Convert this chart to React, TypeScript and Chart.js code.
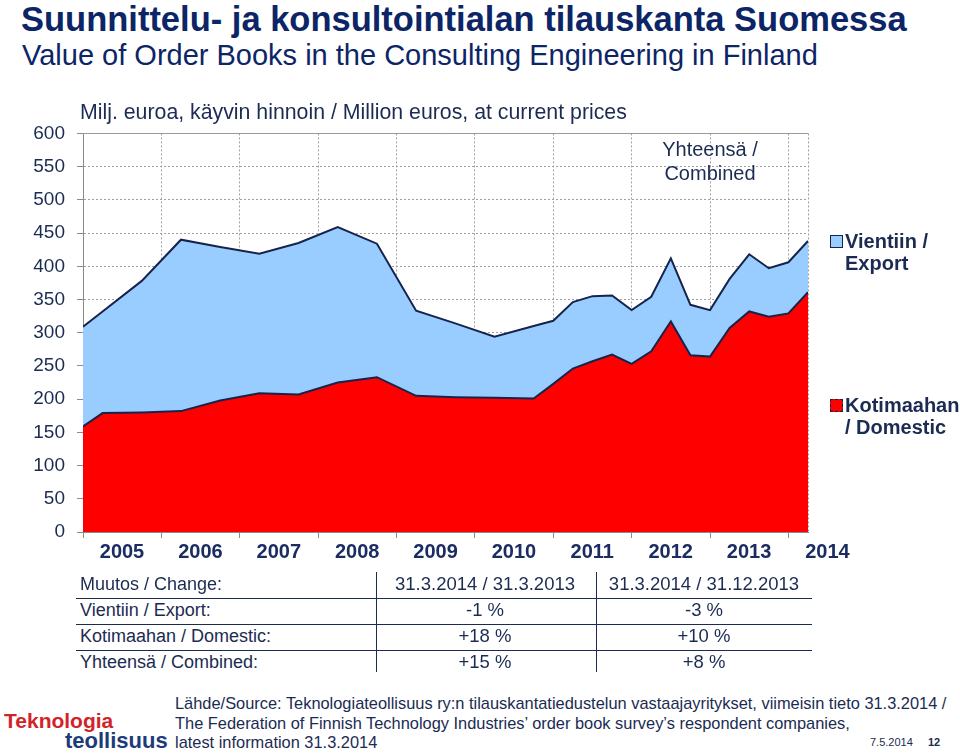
import React, { useEffect, useRef } from 'react';
import { Chart, registerables } from 'chart.js';

Chart.register(...registerables);

// ---- data ----
const yearLabels = ['2005', '2006', '2007', '2008', '2009', '2010', '2011', '2012', '2013', '2014'];
// quarter index from the start of 2005 (end-of-quarter survey dates)
const quarterIndex = [0, 1, 3, 5, 7, 9, 11, 13, 15, 17, 19, 21, 23, 24, 25, 26, 27, 28, 29, 30, 31, 32, 33, 34, 35, 36, 37];
const domesticValues = [159, 179, 180, 182, 198, 209, 207, 225, 233, 205, 203, 202, 201, 223, 246, 257, 267, 253, 272, 317, 266, 264, 307, 332, 324, 329, 361];
const exportValues = [150, 153, 198, 258, 231, 210, 228, 234, 201, 128, 111, 92, 109, 95, 100, 98, 89, 81, 82, 95, 76, 70, 74, 86, 73, 77, 77];
const yMin = 0;
const yMax = 600;
const yStep = 50;

const changeHeader = ['Muutos / Change:', '31.3.2014 / 31.3.2013', '31.3.2014 / 31.12.2013'];
const changeRows = [
  ['Vientiin / Export:', '-1 %', '-3 %'],
  ['Kotimaahan / Domestic:', '+18 %', '+10 %'],
  ['Yhteensä / Combined:', '+15 %', '+8 %'],
];

const FONT = '"Liberation Sans", Arial, Helvetica, sans-serif';
const NAVY = '#0c2566';
const TEXT = '#1b2b52';

const framePlugin = {
  id: 'frame',
  afterDatasetsDraw(chart: any) {
    const { ctx, chartArea: a } = chart;
    ctx.save();
    ctx.strokeStyle = '#9a9a9a';
    ctx.lineWidth = 1;
    ctx.setLineDash([2, 2]);
    ctx.beginPath();
    ctx.moveTo(Math.round(a.right) + 0.5, a.top);
    ctx.lineTo(Math.round(a.right) + 0.5, a.bottom);
    ctx.stroke();
    ctx.setLineDash([]);
    ctx.beginPath();
    ctx.moveTo(a.left, Math.round(a.top) + 0.5);
    ctx.lineTo(a.right, Math.round(a.top) + 0.5);
    ctx.stroke();
    ctx.restore();
  },
};

function OrderChart() {
  const ref = useRef<HTMLCanvasElement | null>(null);
  useEffect(() => {
    if (!ref.current) return;
    const chart = new Chart(ref.current, {
      type: 'line',
      data: {
        datasets: [
          {
            label: 'Kotimaahan / Domestic',
            data: quarterIndex.map((q, i) => ({ x: q, y: domesticValues[i] })),
            backgroundColor: '#ff0000',
            borderColor: '#16244c',
            borderWidth: 2,
            fill: 'origin',
            pointRadius: 0,
            tension: 0,
          },
          {
            label: 'Vientiin / Export',
            data: quarterIndex.map((q, i) => ({ x: q, y: exportValues[i] })),
            backgroundColor: '#99ccff',
            borderColor: '#16244c',
            borderWidth: 2,
            fill: '-1',
            pointRadius: 0,
            tension: 0,
          },
        ],
      },
      options: {
        animation: false,
        responsive: true,
        maintainAspectRatio: false,
        layout: { padding: { top: 3, right: 152, left: 0, bottom: 0 } },
        plugins: { legend: { display: false }, tooltip: { enabled: false } },
        scales: {
          x: {
            type: 'linear',
            min: 0,
            max: 37,
            afterBuildTicks: (axis: any) => {
              axis.ticks = yearLabels.map((_, i) => ({ value: i * 4 }));
            },
            afterFit: (scale: any) => {
              scale.height = 48;
            },
            ticks: {
              autoSkip: false,
              maxRotation: 0,
              labelOffset: 39,
              padding: 2,
              color: '#1a2c62',
              font: { family: FONT, size: 20, weight: 'bold' },
              callback: (_v: any, i: number) => yearLabels[i],
            },
            grid: {
              color: '#a0a0a0',
              lineWidth: 1,
              drawTicks: true,
              tickLength: 6,
              tickColor: '#8a8a8a',
            },
            border: { display: true, color: '#8a8a8a', width: 1, dash: [2, 2] },
          },
          y: {
            stacked: true,
            min: yMin,
            max: yMax,
            afterFit: (scale: any) => {
              scale.width = 83;
            },
            ticks: {
              stepSize: yStep,
              padding: 12,
              color: TEXT,
              font: { family: FONT, size: 19 },
            },
            grid: {
              color: '#a0a0a0',
              lineWidth: 1,
              drawTicks: true,
              tickLength: 6,
              tickColor: '#8a8a8a',
            },
            border: { display: true, color: '#8a8a8a', width: 1, dash: [2, 2] },
          },
        },
      },
      plugins: [framePlugin],
    } as any);
    return () => chart.destroy();
  }, []);
  return (
    <div style={{ position: 'absolute', left: 0, top: 110, width: 960, height: 470 }}>
      <canvas ref={ref} />
    </div>
  );
}

const abs = (left: number, top: number, extra: React.CSSProperties = {}): React.CSSProperties => ({
  position: 'absolute',
  left,
  top,
  whiteSpace: 'nowrap',
  fontFamily: FONT,
  lineHeight: 1,
  ...extra,
});

export default function App() {
  return (
    <div style={{ position: 'absolute', left: 0, top: 0, width: 960, height: 753, background: '#fff', overflow: 'hidden', fontFamily: FONT }}>
      <OrderChart />

      <div style={abs(21, 2, { fontSize: 34.5, fontWeight: 'bold', color: NAVY })}>
        Suunnittelu- ja konsultointialan tilauskanta Suomessa
      </div>
      <div style={abs(22, 41, { fontSize: 29, color: NAVY })}>
        Value of Order Books in the Consulting Engineering in Finland
      </div>

      <div style={abs(80, 102, { fontSize: 21.3, color: TEXT })}>
        Milj. euroa, käyvin hinnoin / Million euros, at current prices
      </div>
      <div style={abs(600, 137, { fontSize: 20, color: TEXT, width: 220, textAlign: 'center', lineHeight: '24px' })}>
        Yhteensä /<br />Combined
      </div>

      {/* legend */}
      <div style={{ position: 'absolute', left: 830, top: 235, width: 11, height: 11, background: '#99ccff', border: '1px solid #16244c' }} />
      <div style={abs(845, 230, { fontSize: 20, fontWeight: 'bold', color: TEXT, lineHeight: '22px' })}>
        Vientiin /<br />Export
      </div>
      <div style={{ position: 'absolute', left: 830, top: 399, width: 11, height: 11, background: '#ff0000', border: '1px dashed #16244c' }} />
      <div style={abs(845, 394, { fontSize: 20, fontWeight: 'bold', color: TEXT, lineHeight: '22px' })}>
        Kotimaahan<br />/ Domestic
      </div>

      {/* change table */}
      <div style={{ position: 'absolute', left: 376, top: 572, width: 1, height: 100, background: '#1b2b52' }} />
      <div style={{ position: 'absolute', left: 596, top: 572, width: 1, height: 100, background: '#1b2b52' }} />
      {[598, 624, 650].map((t) => (
        <div key={t} style={{ position: 'absolute', left: 76, top: t, width: 736, height: 1, background: '#1b2b52' }} />
      ))}
      {[changeHeader, ...changeRows].map((row, r) => (
        <React.Fragment key={r}>
          <div style={abs(80, 575 + r * 26, { fontSize: 18, color: TEXT })}>{row[0]}</div>
          <div style={abs(385, 575 + r * 26, { fontSize: 18.5, color: TEXT, width: 200, textAlign: 'center' })}>{row[1]}</div>
          <div style={abs(604, 575 + r * 26, { fontSize: 18.5, color: TEXT, width: 200, textAlign: 'center' })}>{row[2]}</div>
        </React.Fragment>
      ))}

      {/* footer */}
      <div style={abs(4, 710, { fontSize: 21, fontWeight: 'bold', color: '#d2232a' })}>Teknologia</div>
      <div style={abs(65, 730, { fontSize: 22, fontWeight: 'bold', color: '#1d3b7a' })}>teollisuus</div>
      <div style={abs(175, 694, { fontSize: 16.4, color: TEXT, lineHeight: '19.5px' })}>
        Lähde/Source: Teknologiateollisuus ry:n tilauskantatiedustelun vastaajayritykset, viimeisin tieto 31.3.2014 /<br />
        The Federation of Finnish Technology Industries’ order book survey’s respondent companies,<br />
        latest information 31.3.2014
      </div>
      <div style={abs(870, 737, { fontSize: 11, color: TEXT })}>7.5.2014</div>
      <div style={abs(928, 737, { fontSize: 11, fontWeight: 'bold', color: TEXT })}>12</div>
    </div>
  );
}
